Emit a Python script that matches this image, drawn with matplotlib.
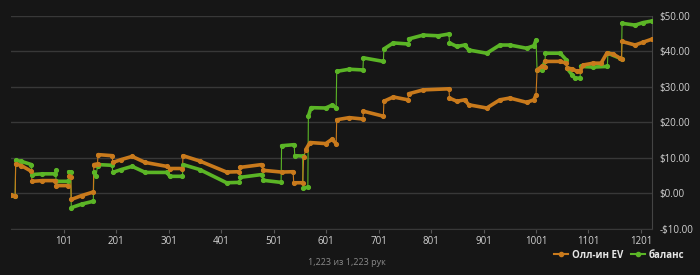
import numpy as np
import matplotlib.pyplot as plt
from matplotlib.lines import Line2D

plt.rcParams['font.family'] = ['Open Sans', 'DejaVu Sans']

# Олл-ин EV (orange)
ev_hands = [1, 8, 9, 20, 39, 40, 60, 84, 86, 109, 111, 114, 115, 135, 157, 158, 165, 166,
            193, 194, 210, 231, 256, 297, 303, 327, 328, 360, 411, 435, 436, 478, 480, 516,
            538, 539, 556, 558, 562, 570, 600, 612, 620, 621, 645, 671, 672, 710, 711, 729,
            757, 758, 786, 835, 836, 850, 865, 873, 907, 932, 951, 983, 997, 1001, 1003,
            1012, 1018, 1019, 1047, 1059, 1060, 1070, 1079, 1085, 1091, 1110, 1125, 1136,
            1148, 1161, 1164, 1165, 1190, 1205, 1223]
ev_vals = [-0.5, -0.8, 8.3, 7.8, 6.2, 3.4, 3.6, 3.6, 2.2, 2.2, 4.8, 4.5, -1.7, -0.6, 0.4, 8.1, 8.3, 10.9,
           10.6, 8.7, 9.5, 10.4, 8.7, 7.6, 7.0, 7.0, 10.6, 9.1, 6.0, 6.1, 7.3, 8.1, 6.5, 6.0,
           6.1, 3.0, 3.0, 10.1, 12.3, 14.3, 14.0, 15.2, 14.0, 20.7, 21.3, 20.9, 23.1, 21.7, 25.9, 27.1,
           26.3, 28.0, 29.1, 29.4, 26.8, 25.9, 26.3, 24.9, 24.0, 26.3, 26.8, 25.6, 26.3, 27.7, 34.7,
           35.7, 35.5, 37.1, 37.1, 36.6, 35.2, 35.0, 34.3, 34.4, 36.1, 36.6, 36.6, 39.4,
           39.2, 38.0, 37.8, 42.7, 41.7, 42.5, 43.4]

# баланс (green)
bal_hands = [1, 8, 9, 20, 39, 40, 60, 84, 85, 86, 109, 110, 114, 115, 135, 157, 158, 162, 165, 166,
             193, 194, 210, 231, 256, 297, 303, 327, 328, 360, 411, 435, 436, 478, 480, 515,
             516, 540, 541, 556, 557, 566, 567, 572, 600, 612, 620, 621, 645, 671, 672, 710, 711,
             729, 757, 758, 786, 815, 835, 836, 850, 865, 873, 907, 932, 951, 983, 997, 1001,
             1003, 1012, 1018, 1019, 1047, 1059, 1060, 1070, 1075, 1085, 1086, 1110, 1137,
             1138, 1161, 1164, 1165, 1190, 1205, 1223]
bal_vals = [-0.5, -0.8, 9.3, 9.0, 8.1, 5.3, 5.5, 5.5, 6.7, 3.4, 3.4, 6.1, 6.0, -4.0, -3.0, -2.2, 5.9, 4.8, 7.6, 8.1,
            7.9, 5.9, 6.7, 7.6, 5.9, 5.9, 4.8, 4.8, 8.1, 6.7, 3.0, 3.1, 4.5, 5.3, 3.7, 3.1,
            13.4, 13.7, 10.6, 10.5, 1.4, 1.8, 21.7, 24.1, 24.0, 24.8, 24.1, 34.3, 34.9, 34.7, 38.1, 37.1, 40.6,
            42.3, 42.0, 43.4, 44.5, 44.3, 44.8, 42.3, 41.3, 41.7, 40.3, 39.4, 41.7, 41.7, 40.8, 41.5, 43.1,
            34.7, 34.7, 37.1, 39.4, 39.4, 37.5, 35.2, 33.3, 32.4, 32.4, 35.7, 35.5, 35.7,
            39.4, 38.0, 37.8, 47.8, 47.3, 48.0, 48.5]

y_ticks = [-10, 0, 10, 20, 30, 40, 50]
x_ticks = [101, 201, 301, 401, 501, 601, 701, 801, 901, 1001, 1101, 1201]
n_hands = 1223

bg = '#161616'
orange = '#c97a1c'
green = '#5bb526'
txt = '#d2d2d2'
grid = '#383838'

fig = plt.figure(figsize=(7, 2.75), dpi=100, facecolor=bg)
ax = fig.add_axes([0.0164, 0.1673, 0.9157, 0.7763], facecolor=bg)


def draw(hands, vals, color):
    h = np.array(hands, float)
    v = np.array(vals, float)
    # thin line everywhere (shows the jumps)
    ax.plot(h, v, color=color, lw=0.8, zorder=3)
    # thick line, broken where the series jumps steeply
    steep = np.abs(np.diff(v)) / np.diff(h) > 0.5
    hh, vv = [h[0]], [v[0]]
    for i in range(1, len(h)):
        if steep[i - 1]:
            hh.append(np.nan)
            vv.append(np.nan)
        hh.append(h[i])
        vv.append(v[i])
    ax.plot(hh, vv, color=color, lw=2.6, solid_capstyle='round', zorder=4)
    ax.plot(h, v, 'o', color=color, ms=2.7, zorder=4)


draw(bal_hands, bal_vals, green)
draw(ev_hands, ev_vals, orange)

ax.set_xlim(1, n_hands)
ax.set_ylim(-10, 50)
ax.set_yticks(y_ticks)
ax.set_yticklabels([('-$%.2f' % -t) if t < 0 else ('$%.2f' % t) for t in y_ticks])
ax.yaxis.tick_right()
ax.set_xticks(x_ticks)
ax.grid(axis='y', color=grid, lw=1)
ax.tick_params(axis='y', length=0, pad=5, labelsize=7, labelcolor=txt)
ax.tick_params(axis='x', length=3, width=0.8, color='#555555', pad=2, labelsize=7, labelcolor=txt)
for s in ['top', 'left']:
    ax.spines[s].set_visible(False)
ax.spines['right'].set_color('#444444')
ax.spines['bottom'].set_color(grid)
ax.set_axisbelow(True)

fig.text(0.496, 0.03, '1,223 из 1,223 рук', color='#8a8a8a', fontsize=6.5, ha='center', va='bottom')

handles = [Line2D([], [], color=orange, lw=1.5, marker='o', ms=3),
           Line2D([], [], color=green, lw=1.5, marker='o', ms=3)]
fig.legend(handles, ['Олл-ин EV', 'баланс'], loc='lower right', bbox_to_anchor=(0.99, 0.02),
           ncol=2, frameon=False, handlelength=1.4, handletextpad=0.4,
           columnspacing=0.8, labelcolor='#e6e6e6', prop={'weight': 'bold', 'size': 7})

fig.savefig('out.png', dpi=100, facecolor=bg)
